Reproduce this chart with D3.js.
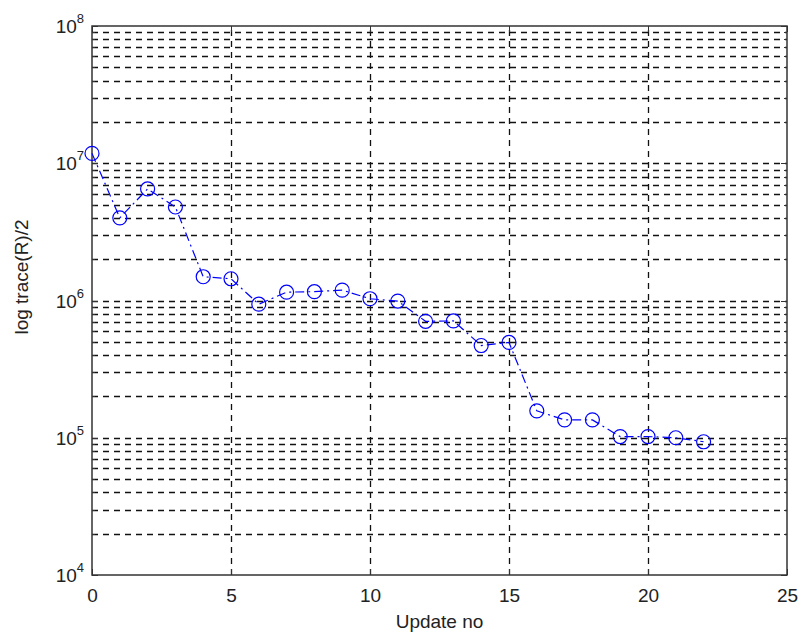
<!DOCTYPE html>
<html lang="en">
<head>
<meta charset="UTF-8">
<title>log trace(R)/2</title>
<script src="https://d3js.org/d3.v7.min.js"></script>
<style>
    body { margin: 0; background: #fff; }
    svg text { font-family: "Liberation Sans", Arial, sans-serif; fill: #222; }
</style>
</head>
<body>
<script>
    // data
    var updates = [0, 1, 2, 3, 4, 5, 6, 7, 8, 9, 10, 11, 12, 13, 14, 15, 16, 17, 18, 19, 20, 21, 22];
    var traceValues = [1.18e7, 4.0e6, 6.5e6, 4.8e6, 1.49e6, 1.44e6, 9.4e5, 1.15e6, 1.16e6, 1.19e6,
                       1.03e6, 9.9e5, 7.05e5, 7.1e5, 4.7e5, 4.95e5, 1.57e5, 1.35e5, 1.35e5, 1.02e5,
                       1.02e5, 1.0e5, 9.35e4];
    var xTicks = [0, 5, 10, 15, 20, 25];
    var yExponents = [4, 5, 6, 7, 8];

    var width = 801, height = 640;
    var margin = {top: 26, right: 14, bottom: 65, left: 92};

    var svg = d3.select("body").append("svg")
        .attr("width", width)
        .attr("height", height);

    var x = d3.scaleLinear()
        .domain([0, 25])
        .range([margin.left, width - margin.right]);

    var y = d3.scaleLog()
        .domain([1e4, 1e8])
        .range([height - margin.bottom, margin.top]);

    // grid lines, major + minor on y
    var grid = svg.append("g").attr("id", "grid");
    var minor = [];
    for (var e = 4; e < 8; e++) {
        for (var m = 1; m <= 9; m++) minor.push(m * Math.pow(10, e));
    }
    grid.selectAll("line.gy")
        .data(minor.filter(function(d) { return d > 1e4; }))
        .enter().append("line")
            .attr("class", "gy")
            .attr("x1", x(0)).attr("x2", x(25))
            .attr("y1", function(d) { return Math.round(y(d)) + 0.5; })
            .attr("y2", function(d) { return Math.round(y(d)) + 0.5; })
            .attr("stroke", "#111")
            .attr("stroke-width", 1.3)
            .attr("stroke-dasharray", "6,5");

    grid.selectAll("line.gx")
        .data(xTicks.slice(1, -1))
        .enter().append("line")
            .attr("class", "gx")
            .attr("y1", y(1e4)).attr("y2", y(1e8))
            .attr("x1", function(d) { return Math.round(x(d)) + 0.5; })
            .attr("x2", function(d) { return Math.round(x(d)) + 0.5; })
            .attr("stroke", "#111")
            .attr("stroke-width", 1.3)
            .attr("stroke-dasharray", "6,5");

    // x axis (ticks inside)
    var xAxis = d3.axisBottom(x).tickValues(xTicks).tickSize(-6).tickPadding(14).tickFormat(d3.format("d"));
    var gx = svg.append("g")
        .attr("transform", "translate(0," + y(1e4) + ")")
        .call(xAxis);
    gx.select(".domain").remove();
    gx.selectAll("text").style("font-size", "19px");
    gx.selectAll(".tick line").attr("stroke", "#333");

    var gxTop = svg.append("g")
        .attr("transform", "translate(0," + y(1e8) + ")")
        .call(d3.axisTop(x).tickValues(xTicks).tickSize(-6).tickFormat(""));
    gxTop.select(".domain").remove();
    gxTop.selectAll(".tick line").attr("stroke", "#333");

    // y tick labels 10^n
    var ylab = svg.append("g").selectAll("text")
        .data(yExponents)
        .enter().append("text")
            .attr("x", margin.left - 8)
            .attr("y", function(d) { return y(Math.pow(10, d)) + 7; })
            .attr("text-anchor", "end")
            .style("font-size", "19px");
    ylab.append("tspan").text("10");
    ylab.append("tspan")
        .attr("dy", -10)
        .style("font-size", "13px")
        .text(function(d) { return d; });

    // y ticks inside (left and right)
    var yTickVals = minor.concat([1e8]);
    [x(0), x(25)].forEach(function(px, side) {
        svg.append("g").selectAll("line")
            .data(yTickVals)
            .enter().append("line")
                .attr("x1", px)
                .attr("x2", function(d) {
                    var len = (Math.abs(Math.log10(d) % 1) < 1e-9) ? 6 : 3;
                    return side === 0 ? px + len : px - len;
                })
                .attr("y1", function(d) { return Math.round(y(d)) + 0.5; })
                .attr("y2", function(d) { return Math.round(y(d)) + 0.5; })
                .attr("stroke", "#333");
    });

    // frame
    svg.append("rect")
        .attr("x", x(0)).attr("y", y(1e8))
        .attr("width", x(25) - x(0))
        .attr("height", y(1e4) - y(1e8))
        .attr("fill", "none")
        .attr("stroke", "#333")
        .attr("stroke-width", 1.5);

    // data line
    var points = updates.map(function(d, i) { return [d, traceValues[i]]; });
    var line = d3.line()
        .x(function(d) { return x(d[0]); })
        .y(function(d) { return y(d[1]); });

    svg.append("path")
        .datum(points)
        .attr("d", line)
        .attr("fill", "none")
        .attr("stroke", "#0000ff")
        .attr("stroke-width", 1.2)
        .attr("stroke-dasharray", "9,4,2,4");

    svg.append("g").selectAll("circle")
        .data(points)
        .enter().append("circle")
            .attr("cx", function(d) { return x(d[0]); })
            .attr("cy", function(d) { return y(d[1]); })
            .attr("r", 7)
            .attr("fill", "none")
            .attr("stroke", "#0000ff")
            .attr("stroke-width", 1.2);

    // axis titles
    svg.append("text")
        .attr("x", (x(0) + x(25)) / 2)
        .attr("y", 628)
        .attr("text-anchor", "middle")
        .style("font-size", "19px")
        .text("Update no");

    svg.append("text")
        .attr("transform", "translate(28,277) rotate(-90)")
        .attr("text-anchor", "middle")
        .style("font-size", "19px")
        .text("log trace(R)/2");
</script>
</body>
</html>
